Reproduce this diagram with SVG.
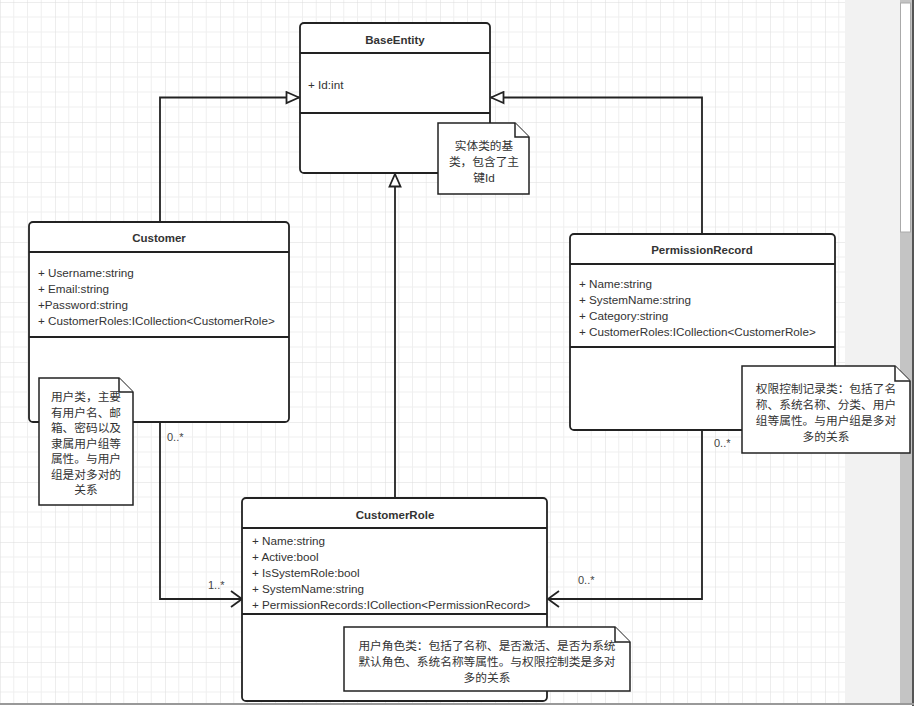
<svg xmlns="http://www.w3.org/2000/svg" width="914" height="709" viewBox="0 0 914 709">
<defs>
<pattern id="grid" patternUnits="userSpaceOnUse" x="0" y="2" width="55" height="60">
<path d="M13.75 0V60M27.5 0V60M41.25 0V60M0 15H55M0 30H55M0 45H55" stroke="#efefef" stroke-width="1" fill="none"/>
<path d="M0 0V60M0 0H55" stroke="#dcdcdc" stroke-width="1" fill="none"/>
</pattern>
<marker id="tri" markerWidth="16" markerHeight="14" refX="14" refY="7" orient="auto" markerUnits="userSpaceOnUse">
<path d="M1.5 1.5L14 7L1.5 12.5Z" fill="#fff" stroke="#222" stroke-width="1.8"/>
</marker>
<marker id="open" markerWidth="16" markerHeight="20" refX="14" refY="10" orient="auto" markerUnits="userSpaceOnUse">
<path d="M3 2L14 10L3 18" fill="none" stroke="#222" stroke-width="1.8"/>
</marker>
</defs>
<style>
text{font-family:"Liberation Sans","Noto Sans CJK SC",sans-serif;fill:#333;font-size:11.7px}
.t{font-weight:bold;text-anchor:middle;font-size:11.5px}
.c{text-anchor:middle}
.lbl{font-size:11px;fill:#444}
.box{fill:#fff;stroke:#222;stroke-width:1.8}
.sep{stroke:#222;stroke-width:1.8}
.note{fill:#fff;stroke:#222;stroke-width:1.5}
.conn{fill:none;stroke:#222;stroke-width:1.8}
</style>
<rect width="914" height="709" fill="#fff"/>
<rect x="0" y="0" width="845" height="704" fill="url(#grid)"/>
<rect x="845" y="0" width="55" height="704" fill="#f2f2f2"/>
<rect x="900" y="0" width="12" height="704" fill="#c4c4c4"/>
<rect x="900.5" y="3" width="10" height="229" fill="#fff" stroke="#aaa" stroke-width="1"/>
<rect x="912" y="0" width="2" height="706" fill="#555"/>
<rect x="0" y="703" width="914" height="2" fill="#999"/>

<g id="connectors">
<path class="conn" d="M160 222V97.5H299" marker-end="url(#tri)"/>
<path class="conn" d="M702 234V97.5H491" marker-end="url(#tri)"/>
<path class="conn" d="M395 498V174" marker-end="url(#tri)"/>
<path class="conn" d="M160 422V599H242" marker-end="url(#open)"/>
<path class="conn" d="M702 430V599H548" marker-end="url(#open)"/>
<text class="lbl" x="167" y="441">0..*</text>
<text class="lbl" x="208" y="589">1..*</text>
<text class="lbl" x="714" y="447">0..*</text>
<text class="lbl" x="578" y="584">0..*</text>
</g>

<g id="BaseEntity">
<rect class="box" x="300" y="23" width="190" height="150" rx="4"/>
<line class="sep" x1="300" y1="53" x2="490" y2="53"/>
<line class="sep" x1="300" y1="113" x2="490" y2="113"/>
<text class="t" x="395" y="44">BaseEntity</text>
<text x="308" y="89">+ Id:int</text>
</g>

<g id="Customer">
<rect class="box" x="29" y="222" width="260" height="200" rx="4"/>
<line class="sep" x1="29" y1="252" x2="289" y2="252"/>
<line class="sep" x1="29" y1="337" x2="289" y2="337"/>
<text class="t" x="159" y="242">Customer</text>
<text x="38" y="276.5">+ Username:string</text>
<text x="38" y="292.5">+ Email:string</text>
<text x="38" y="308.5">+Password:string</text>
<text x="38" y="324.5">+ CustomerRoles:ICollection&lt;CustomerRole&gt;</text>
</g>

<g id="PermissionRecord">
<rect class="box" x="570" y="234" width="265" height="196" rx="4"/>
<line class="sep" x1="570" y1="264" x2="835" y2="264"/>
<line class="sep" x1="570" y1="347" x2="835" y2="347"/>
<text class="t" x="702" y="254">PermissionRecord</text>
<text x="579" y="288">+ Name:string</text>
<text x="579" y="304">+ SystemName:string</text>
<text x="579" y="320">+ Category:string</text>
<text x="579" y="335.5">+ CustomerRoles:ICollection&lt;CustomerRole&gt;</text>
</g>

<g id="CustomerRole">
<rect class="box" x="242" y="498" width="305" height="203" rx="4"/>
<line class="sep" x1="242" y1="528" x2="547" y2="528"/>
<line class="sep" x1="242" y1="614" x2="547" y2="614"/>
<text class="t" x="395" y="519">CustomerRole</text>
<text x="252" y="545">+ Name:string</text>
<text x="252" y="561">+ Active:bool</text>
<text x="252" y="577">+ IsSystemRole:bool</text>
<text x="252" y="592.5">+ SystemName:string</text>
<text x="252" y="608.5">+ PermissionRecords:ICollection&lt;PermissionRecord&gt;</text>
</g>

<g id="note-baseentity">
<path class="note" d="M438 123H515L529 137V194H438Z"/>
<path class="note" d="M515 123V137H529" fill="none"/>
<text class="c" x="484" y="149.5">实体类的基</text>
<text class="c" x="484" y="165.5">类，包含了主</text>
<text class="c" x="484" y="181.5">键Id</text>
</g>

<g id="note-customer">
<path class="note" d="M39 378H119L133 392V505H39Z"/>
<path class="note" d="M119 378V392H133" fill="none"/>
<text class="c" x="86" y="401">用户类，主要</text>
<text class="c" x="86" y="416.5">有用户名、邮</text>
<text class="c" x="86" y="432">箱、密码以及</text>
<text class="c" x="86" y="447.5">隶属用户组等</text>
<text class="c" x="86" y="463">属性。与用户</text>
<text class="c" x="86" y="478.5">组是对多对的</text>
<text class="c" x="86" y="494">关系</text>
</g>

<g id="note-permissionrecord">
<path class="note" d="M742 366H895L910 381V453H742Z"/>
<path class="note" d="M895 366V381H910" fill="none"/>
<text class="c" x="826" y="392.5">权限控制记录类：包括了名</text>
<text class="c" x="826" y="409">称、系统名称、分类、用户</text>
<text class="c" x="826" y="425">组等属性。与用户组是多对</text>
<text class="c" x="826" y="441">多的关系</text>
</g>

<g id="note-customerrole">
<path class="note" d="M344 627H615L630 642V691H344Z"/>
<path class="note" d="M615 627V642H630" fill="none"/>
<text class="c" x="487" y="649.5">用户角色类：包括了名称、是否激活、是否为系统</text>
<text class="c" x="487" y="666">默认角色、系统名称等属性。与权限控制类是多对</text>
<text class="c" x="487" y="682">多的关系</text>
</g>
</svg>
